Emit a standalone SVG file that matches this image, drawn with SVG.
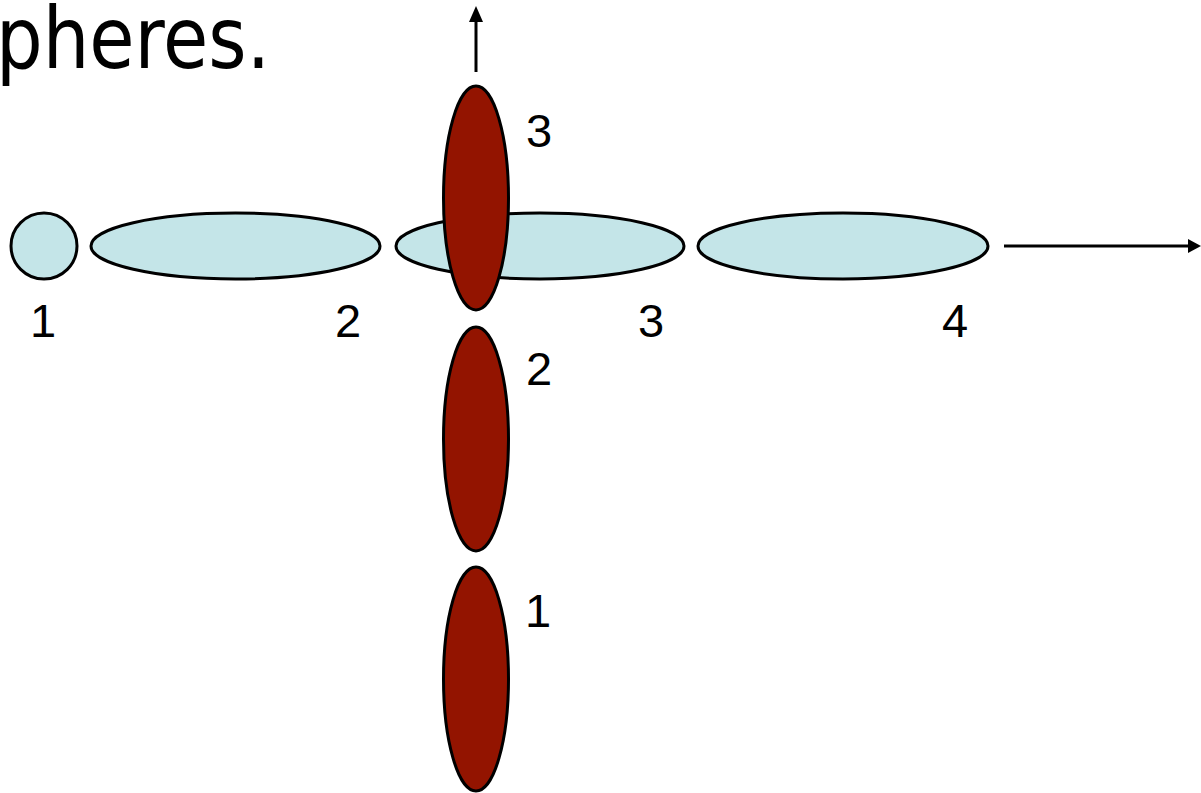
<svg xmlns="http://www.w3.org/2000/svg" width="1201" height="793" viewBox="0 0 1201 793">
<style>
.blue{fill:#c4e5e8;stroke:#000;stroke-width:3}
.red{fill:#931400;stroke:#000;stroke-width:3}
.lbl{font-family:"Liberation Sans",Arial,sans-serif;font-size:47px;fill:#000}
.title{font-family:"DejaVu Sans Condensed","DejaVu Sans",sans-serif;font-size:85px;fill:#000}
.conn{stroke:#000;stroke-width:3;fill:none}
</style>
<text class="title" x="-4" y="68" textLength="274" lengthAdjust="spacingAndGlyphs">pheres.</text>
<g id="connectors">
<line class="conn" x1="476" y1="72" x2="476" y2="22"/>
<path d="M476,6 L469,22 L483,22 Z" fill="#000"/>
<line class="conn" x1="1004" y1="246" x2="1190" y2="246"/>
<path d="M1201,246 L1188,239 L1188,253 Z" fill="#000"/>
</g>
<g id="h1"><circle class="blue" cx="44" cy="246" r="33"/></g>
<g id="h2"><ellipse class="blue" cx="235.5" cy="246" rx="144.5" ry="33"/></g>
<g id="h3"><ellipse class="blue" cx="540" cy="246" rx="144" ry="33"/></g>
<g id="h4"><ellipse class="blue" cx="843" cy="246" rx="145" ry="33"/></g>
<g id="v3"><ellipse class="red" cx="476" cy="198" rx="32.5" ry="112"/></g>
<g id="v2"><ellipse class="red" cx="476" cy="439" rx="32.5" ry="112"/></g>
<g id="v1"><ellipse class="red" cx="476" cy="679" rx="32.5" ry="112"/></g>
<g id="labels">
<text class="lbl" x="30" y="337">1</text>
<text class="lbl" x="335" y="337">2</text>
<text class="lbl" x="638" y="337">3</text>
<text class="lbl" x="942" y="337">4</text>
<text class="lbl" x="526" y="147">3</text>
<text class="lbl" x="526" y="385">2</text>
<text class="lbl" x="525" y="627">1</text>
</g>
</svg>
